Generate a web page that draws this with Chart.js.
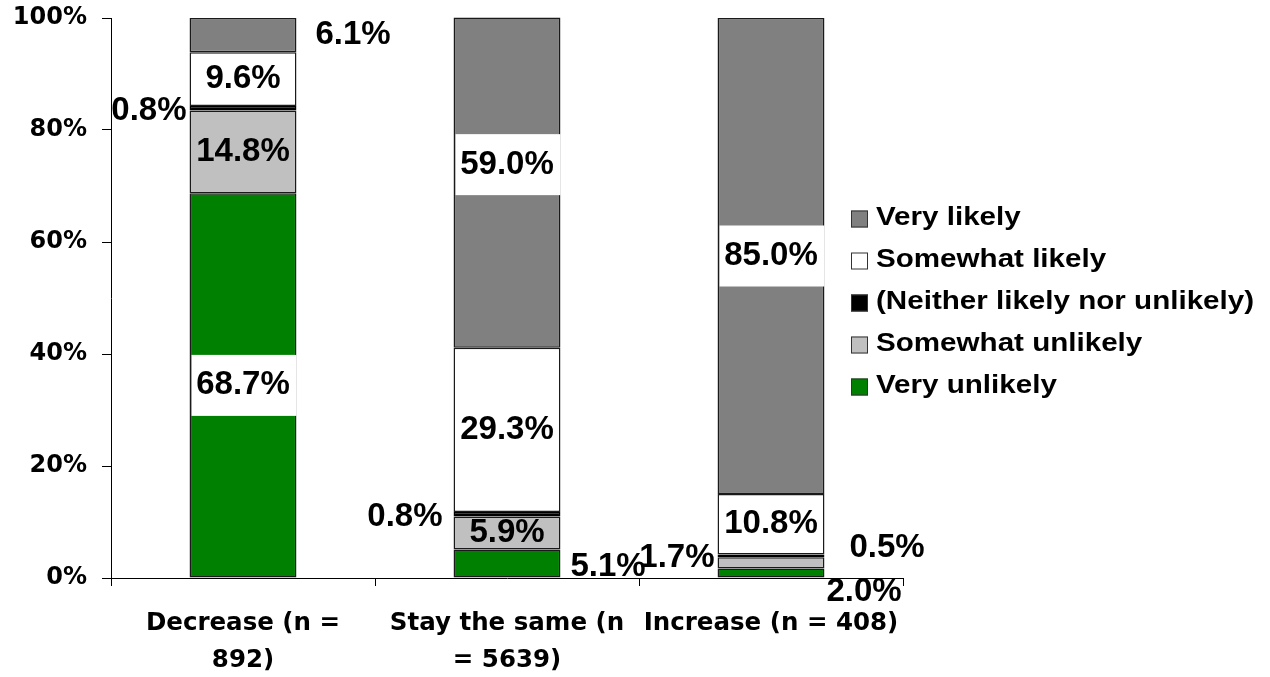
<!DOCTYPE html>
<html>
<head>
<meta charset="utf-8">
<title>Likelihood by change group</title>
<script src="https://cdn.jsdelivr.net/npm/chart.js@4.4.1/dist/chart.umd.min.js"></script>
<style>
  html, body { margin: 0; padding: 0; background: #ffffff; }
  #wrap { position: relative; width: 1270px; height: 677px; }
</style>
</head>
<body>
<div id="wrap"><canvas id="chart"></canvas></div>
<script>
// Category labels (already broken into lines)
const categories = [
  ['Decrease (n =', '892)'],
  ['Stay the same (n', '= 5639)'],
  ['Increase (n = 408)']
];

// Series names, bottom of the stack first
const seriesNames = [
  'Very unlikely',
  'Somewhat unlikely',
  '(Neither likely nor unlikely)',
  'Somewhat likely',
  'Very likely'
];

// Percentages per category: Decrease, Stay the same, Increase
const veryUnlikely     = [68.7, 5.1, 1.7];
const somewhatUnlikely = [14.8, 5.9, 2.0];
const neitherNor       = [0.8, 0.8, 0.5];
const somewhatLikely   = [9.6, 29.3, 10.8];
const veryLikely       = [6.1, 59.0, 85.0];

// Value axis ticks
const yTicks = [0, 20, 40, 60, 80, 100];

const seriesValues = [veryUnlikely, somewhatUnlikely, neitherNor, somewhatLikely, veryLikely];
const seriesColors = ['#008000', '#c0c0c0', '#000000', '#ffffff', '#808080'];
const seriesBorders = ['#1a1a1a', '#1a1a1a', '#000000', '#1a1a1a', '#1a1a1a'];

// Where each value label sits, [series][category]
const labelPlacement = [
  [ { side: 'center', box: true }, { side: 'right', gap: 10, dy: 3 }, { side: 'left', gap: 3, dy: -15 } ],
  [ { side: 'center' }, { side: 'center' }, { side: 'right', gap: 2, dy: 29 } ],
  [ { side: 'left', gap: 3, dy: 3 }, { side: 'left', gap: 11, dy: 3 }, { side: 'right', gap: 25, dy: -8 } ],
  [ { side: 'center' }, { side: 'center' }, { side: 'center' } ],
  [ { side: 'right', gap: 19 }, { side: 'center', box: true, dy: -18 }, { side: 'center', box: true } ]
];

const AXIS_FONT = '"DejaVu Sans", "Liberation Sans", Arial, sans-serif';
const LABEL_FONT = '"Liberation Sans", Arial, Helvetica, sans-serif';

// Value labels on / beside each stacked segment
const valueLabels = {
  id: 'valueLabels',
  afterDatasetsDraw(chart) {
    const ctx = chart.ctx;
    ctx.save();
    ctx.font = 'bold 33px ' + LABEL_FONT;
    ctx.textBaseline = 'middle';
    chart.data.datasets.forEach((ds, di) => {
      const meta = chart.getDatasetMeta(di);
      meta.data.forEach((bar, ci) => {
        const p = labelPlacement[di][ci];
        const { x, y, base, width } = bar.getProps(['x', 'y', 'base', 'width'], true);
        const left = x - width / 2;
        const right = x + width / 2;
        const cy = (y + base) / 2 + (p.dy || 0);
        const text = ds.data[ci].toFixed(1) + '%';
        let tx = x;
        let align = 'center';
        if (p.side === 'left') { tx = left - p.gap; align = 'right'; }
        else if (p.side === 'right') { tx = right + p.gap; align = 'left'; }
        if (p.box) {
          ctx.fillStyle = '#ffffff';
          ctx.fillRect(left + 2, cy - 30.5, width - 2, 61);
        }
        ctx.textAlign = align;
        ctx.fillStyle = '#000000';
        ctx.fillText(text, tx, cy);
      });
    });
    ctx.restore();
  }
};

// Legend on the right, top series first
const sideLegend = {
  id: 'sideLegend',
  afterDraw(chart) {
    const ctx = chart.ctx;
    const items = chart.data.datasets.slice().reverse();
    ctx.save();
    ctx.font = 'bold 25.5px ' + LABEL_FONT;
    ctx.textBaseline = 'middle';
    ctx.textAlign = 'left';
    items.forEach((ds, i) => {
      const cy = 219 + i * 42;
      ctx.fillStyle = ds.backgroundColor;
      ctx.fillRect(851, cy - 8.5, 17, 17);
      ctx.strokeStyle = '#333333';
      ctx.lineWidth = 1;
      ctx.strokeRect(851.5, cy - 8, 16, 16);
      // legend text is set slightly wide
      ctx.save();
      ctx.translate(876, cy - 1);
      ctx.scale(1.16, 1);
      ctx.fillStyle = '#000000';
      ctx.fillText(ds.label, 0, 0);
      ctx.restore();
    });
    ctx.restore();
  }
};

const datasets = seriesNames.map((name, i) => ({
  label: name,
  data: seriesValues[i],
  backgroundColor: seriesColors[i],
  borderColor: seriesBorders[i],
  borderWidth: 1.5,
  borderSkipped: false,
  inflateAmount: 0,
  categoryPercentage: 1.0,
  barPercentage: 0.405,
  clip: false
}));

new Chart(document.getElementById('chart'), {
  type: 'bar',
  data: { labels: categories, datasets: datasets },
  plugins: [valueLabels, sideLegend],
  options: {
    responsive: true,
    maintainAspectRatio: false,
    animation: false,
    layout: { padding: { top: 18, right: 367, bottom: 0, left: 0 } },
    plugins: {
      legend: { display: false },
      tooltip: { enabled: false },
      title: { display: false }
    },
    scales: {
      x: {
        stacked: true,
        grid: {
          display: true,
          drawOnChartArea: false,
          drawTicks: true,
          tickLength: 8,
          color: '#000000',
          offset: true
        },
        border: { display: true, color: '#000000', width: 1 },
        ticks: {
          color: '#000000',
          font: { family: AXIS_FONT, size: 24.5, weight: 'bold', lineHeight: 1.51 },
          padding: 19,
          maxRotation: 0,
          minRotation: 0,
          autoSkip: false
        },
        afterFit(scale) { scale.height = 99; scale.paddingLeft = 0; scale.paddingRight = 0; }
      },
      y: {
        stacked: true,
        min: 0,
        max: 100,
        afterBuildTicks(scale) { scale.ticks = yTicks.map(v => ({ value: v })); },
        grid: {
          display: true,
          drawOnChartArea: false,
          drawTicks: true,
          tickLength: 9,
          color: '#000000'
        },
        border: { display: true, color: '#000000', width: 1 },
        ticks: {
          color: '#000000',
          font: { family: AXIS_FONT, size: 24, weight: 'bold' },
          padding: 15,
          callback: (v) => v + '%'
        },
        afterFit(scale) { scale.width = 111; scale.paddingTop = 0; scale.paddingBottom = 0; }
      }
    }
  }
});
</script>
</body>
</html>
